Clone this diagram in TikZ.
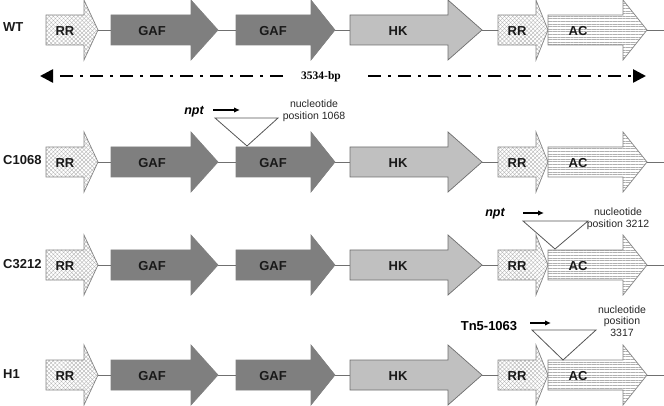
\documentclass[tikz,border=0pt]{standalone}
\usepackage{fontspec}
\setmainfont{Liberation Serif}
\setsansfont{Liberation Sans}
\usetikzlibrary{patterns.meta,arrows.meta}
\definecolor{gafc}{HTML}{7F7F7F}
\definecolor{hkc}{HTML}{C0C0C0}
\definecolor{hkline}{HTML}{6E6E6E}
\definecolor{boxline}{HTML}{858585}
\definecolor{hatch}{HTML}{B0B0B0}
\definecolor{lineg}{HTML}{707070}
\definecolor{insline}{HTML}{555555}
\tikzset{
 lab/.style={font=\sffamily\bfseries\fontsize{13}{14}\selectfont, inner sep=0, text=black!90},
 rowlab/.style={lab, anchor=west},
 note/.style={font=\sffamily\fontsize{10.5}{11.5}\selectfont, align=center, inner sep=0, text=black!85},
 gafst/.style={fill=gafc, draw=gafc, line width=0.6pt},
 hkst/.style={fill=hkc, draw=hkline, line width=0.7pt},
 rrst/.style={preaction={fill=white},
   preaction={pattern={Lines[angle=45,distance=2.9pt,line width=0.35pt]}, pattern color=hatch},
   pattern={Lines[angle=-45,distance=2.9pt,line width=0.35pt]}, pattern color=hatch,
   draw=boxline, line width=0.7pt},
 acst/.style={preaction={fill=white},
   pattern={Lines[angle=0,distance=2.6pt,line width=0.35pt]}, pattern color=hatch,
   draw=boxline, line width=0.7pt},
 backbone/.style={draw=lineg, line width=0.8pt},
 ins/.style={draw=insline, line width=0.8pt},
 dirarrow/.style={line width=1.6pt, -{Latex[length=6pt,width=5.5pt]}},
 dimline/.style={line width=2.6pt, dash pattern=on 13pt off 7pt on 3pt off 7pt, -{Triangle[length=13pt,width=13pt]}}
}
\newcommand\geneArrow[8]{%
  \draw[#2] (#3,#6-15) -- (#4,#6-15) -- (#4,#6-30) -- (#5,#6) -- (#4,#6+30) -- (#4,#6+15) -- (#3,#6+15) -- cycle;
  \coordinate (#1-tail) at (#3,#6);
  \coordinate (#1-tip) at (#5,#6);
  \node[lab] (#1) at (#7,#6+1) {#8};
}
\newcommand\geneRow[2]{%
  \geneArrow{#1rra}{rrst}{46}{84}{98}{#2}{65}{RR}
  \geneArrow{#1gafa}{gafst}{111}{191}{218}{#2}{152}{GAF}
  \geneArrow{#1gafb}{gafst}{236}{311}{335}{#2}{273}{GAF}
  \geneArrow{#1hk}{hkst}{350}{448}{482}{#2}{398}{HK}
  \geneArrow{#1rrb}{rrst}{498}{536}{548}{#2}{517}{RR}
  \geneArrow{#1ac}{acst}{548}{623}{647}{#2}{578}{AC}
  \coordinate (#1end) at (664,#2);
  \draw[backbone] (#1rra-tip) -- (#1gafa-tail) (#1gafa-tip) -- (#1gafb-tail)
    (#1gafb-tip) -- (#1hk-tail) (#1hk-tip) -- (#1rrb-tail) (#1ac-tip) -- (#1end);
}
\begin{document}
\begin{tikzpicture}[x=1pt,y=-1pt]
\useasboundingbox (0,0) rectangle (664,406);
% rows
\geneRow{w}{30}
\geneRow{c}{162}
\geneRow{d}{265}
\geneRow{h}{375}
\node[rowlab] (lwt) at (3,27) {WT};
\node[rowlab] (lc) at (3,160) {C1068};
\node[rowlab] (ld) at (3,264) {C3212};
\node[rowlab] (lh) at (3,374) {H1};
% dimension
\node[font=\rmfamily\bfseries\fontsize{11.5}{12}\selectfont, inner sep=0] (bp) at (321,77) {3534-bp};
\coordinate (dla) at (283,76);
\coordinate (dlb) at (40,76);
\coordinate (dra) at (368,76);
\coordinate (drb) at (646,76);
\draw[dimline] (dla) -- (dlb);
\draw[dimline] (dra) -- (drb);
% C1068 insertion
\coordinate (ia1) at (215,118); \coordinate (ia2) at (278,118); \coordinate (ia3) at (247,146);
\draw[ins] (ia1) -- (ia2) -- (ia3) -- cycle;
\node[font=\sffamily\bfseries\itshape\fontsize{12.5}{13}\selectfont, inner sep=0] (npta) at (194,112) {npt};
\coordinate (aa1) at (213,110); \coordinate (aa2) at (240,110);
\draw[dirarrow] (aa1) -- (aa2);
\node[note] (na) at (314,111) {nucleotide\\position 1068};
% C3212 insertion
\coordinate (ib1) at (523,221); \coordinate (ib2) at (588,221); \coordinate (ib3) at (555,249);
\draw[ins] (ib1) -- (ib2) -- (ib3) -- cycle;
\node[font=\sffamily\bfseries\itshape\fontsize{12.5}{13}\selectfont, inner sep=0] (nptb) at (495,214) {npt};
\coordinate (ab1) at (523,213); \coordinate (ab2) at (544,213);
\draw[dirarrow] (ab1) -- (ab2);
\node[note] (nb) at (618,219) {nucleotide\\position 3212};
% H1 insertion
\coordinate (ic1) at (532,330); \coordinate (ic2) at (596,330); \coordinate (ic3) at (563,360);
\draw[ins] (ic1) -- (ic2) -- (ic3) -- cycle;
\node[font=\sffamily\bfseries\fontsize{13}{14}\selectfont, inner sep=0] (tn) at (489,326) {Tn5-1063};
\coordinate (ac1) at (530,323); \coordinate (ac2) at (551,323);
\draw[dirarrow] (ac1) -- (ac2);
\node[note] (nc) at (622,321) {nucleotide\\position\\3317};
\end{tikzpicture}
\end{document}
